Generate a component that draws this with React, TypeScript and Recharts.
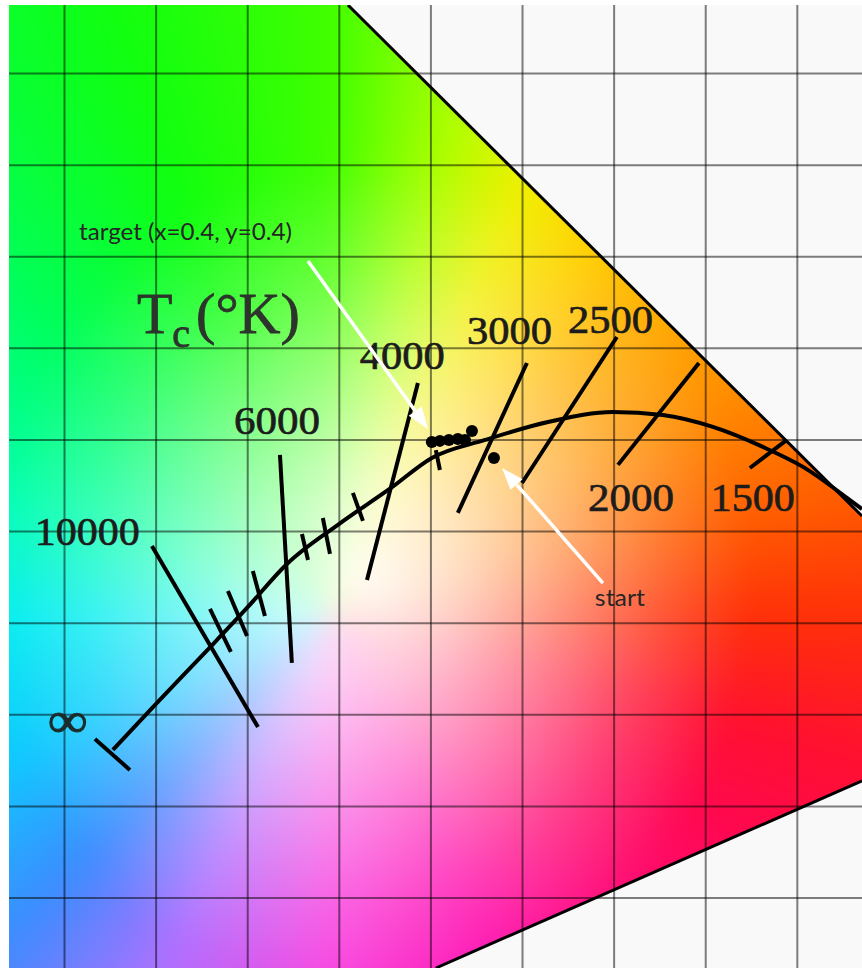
import React from 'react';
import {
  ComposedChart,
  XAxis,
  YAxis,
  Line,
  Scatter,
  ReferenceLine,
  ReferenceArea,
  ReferenceDot,
} from 'recharts';

// ---- chromaticity window (CIE x, y) ----
const X_DOMAIN: [number, number] = [0.1697, 0.6353];
const Y_DOMAIN: [number, number] = [0.1118, 0.6374];

const GRID_X = [0.2, 0.25, 0.3, 0.35, 0.4, 0.45, 0.5, 0.55, 0.6];
const GRID_Y = [0.15, 0.2, 0.25, 0.3, 0.35, 0.4, 0.45, 0.5, 0.55, 0.6];

// Planckian locus (from infinity to ~1200 K)
const PLANCKIAN_LOCUS = [
  { x: 0.2264, y: 0.2308 },
  { x: 0.2493, y: 0.2553 },
  { x: 0.2794, y: 0.2868 },
  { x: 0.2996, y: 0.3083 },
  { x: 0.3214, y: 0.3323 },
  { x: 0.3498, y: 0.3541 },
  { x: 0.3782, y: 0.3738 },
  { x: 0.4005, y: 0.3902 },
  { x: 0.4295, y: 0.4 },
  { x: 0.4639, y: 0.4098 },
  { x: 0.4993, y: 0.4153 },
  { x: 0.5266, y: 0.4136 },
  { x: 0.5539, y: 0.4071 },
  { x: 0.5812, y: 0.3962 },
  { x: 0.6031, y: 0.3853 },
  { x: 0.6287, y: 0.3672 },
  { x: 0.6353, y: 0.3623 },
];

// iso-temperature lines (labelled)
const ISOTHERMS = [
  { t: '10000', x1: 0.2477, y1: 0.3421, x2: 0.3056, y2: 0.2433 },
  { t: '6000', x1: 0.3176, y1: 0.3918, x2: 0.3241, y2: 0.2783 },
  { t: '4000', x1: 0.3929, y1: 0.4311, x2: 0.3651, y2: 0.3236 },
  { t: '3000', x1: 0.4524, y1: 0.442, x2: 0.4147, y2: 0.3602 },
  { t: '2500', x1: 0.5015, y1: 0.4562, x2: 0.4497, y2: 0.3765 },
  { t: '2000', x1: 0.5463, y1: 0.442, x2: 0.5021, y2: 0.3864 },
  { t: '1500', x1: 0.5943, y1: 0.4, x2: 0.5741, y2: 0.3847 },
];

// short intermediate iso-temperature ticks and the bar at infinity
const MINOR_TICKS = [
  { x1: 0.2794, y1: 0.3078, x2: 0.2908, y2: 0.2843 },
  { x1: 0.2892, y1: 0.3176, x2: 0.2996, y2: 0.293 },
  { x1: 0.3028, y1: 0.3285, x2: 0.3094, y2: 0.3039 },
  { x1: 0.3296, y1: 0.3487, x2: 0.3329, y2: 0.3345 },
  { x1: 0.341, y1: 0.3574, x2: 0.3449, y2: 0.3378 },
  { x1: 0.3574, y1: 0.3711, x2: 0.3629, y2: 0.3558 },
  { x1: 0.4027, y1: 0.3945, x2: 0.4049, y2: 0.3836 },
  { x1: 0.2166, y1: 0.2368, x2: 0.2357, y2: 0.2199 },
];

// gamut edges (spectral locus and purple line, where they cross the window)
const SPECTRAL_EDGE = [
  { x: 0.3547, y: 0.6374 },
  { x: 0.6353, y: 0.3585 },
];
const PURPLE_EDGE = [
  { x: 0.4027, y: 0.1118 },
  { x: 0.6353, y: 0.2139 },
];

// measured points
const TARGET_POINTS = [
  { x: 0.4005, y: 0.3989 },
  { x: 0.4049, y: 0.3995 },
  { x: 0.4098, y: 0.4 },
  { x: 0.4147, y: 0.4005 },
  { x: 0.4186, y: 0.4 },
  { x: 0.4224, y: 0.4049 },
];
const START_POINT = [{ x: 0.4344, y: 0.3902 }];

// labels (anchored at left end of baseline)
const TEMP_LABELS = [
  { text: '10000', x: 0.1838, y: 0.3427, w: 105 },
  { text: '6000', x: 0.2925, y: 0.4033, w: 86 },
  { text: '4000', x: 0.3612, y: 0.4388, w: 85 },
  { text: '3000', x: 0.4197, y: 0.4524, w: 85 },
  { text: '2500', x: 0.4748, y: 0.4584, w: 85 },
  { text: '2000', x: 0.4857, y: 0.3612, w: 86 },
  { text: '1500', x: 0.5528, y: 0.3612, w: 84 },
];
const INFINITY_LABEL = { text: '∞', x: 0.1909, y: 0.2377, w: 40 };
const TITLE_LABEL = { x: 0.2395, y: 0.4584 };
const NOTES = [
  { text: 'target (x=0.4, y=0.4)', x: 0.2079, y: 0.5092, w: 213 },
  { text: 'start', x: 0.4895, y: 0.3094, w: 50 },
];
const ARROWS = [
  { x1: 0.3329, y1: 0.4977, x2: 0.3984, y2: 0.406 },
  { x1: 0.4939, y1: 0.3219, x2: 0.4388, y2: 0.3847 },
];

// background shading parameters (style)
const HUE_STOPS = [
  { deg: 0, c: '#40ff00' },
  { deg: 13, c: '#a8ff00' },
  { deg: 24, c: '#f0f000' },
  { deg: 35, c: '#ffd000' },
  { deg: 45, c: '#ffb000' },
  { deg: 60, c: '#ff9000' },
  { deg: 75, c: '#ff6400' },
  { deg: 90, c: '#ff3008' },
  { deg: 105, c: '#ff1030' },
  { deg: 118, c: '#ff0850' },
  { deg: 135, c: '#ff0c78' },
  { deg: 155, c: '#ff10b0' },
  { deg: 180, c: '#f840e0' },
  { deg: 205, c: '#b070ff' },
  { deg: 225, c: '#3c8cff' },
  { deg: 245, c: '#10c8ff' },
  { deg: 270, c: '#00eef0' },
  { deg: 290, c: '#00ffb0' },
  { deg: 315, c: '#00ff60' },
  { deg: 340, c: '#10ff10' },
  { deg: 360, c: '#40ff00' },
];
const HUE_CENTER = { x: 0.3449, y: 0.3045 };
const WHITE_CENTER = { x: 0.3667, y: 0.3236 };
const WHITE_RADII = { rx: 0.2074, ry: 0.2293 };

const SERIF = '"Liberation Serif", "Times New Roman", serif';
const SANS = 'Lato, "Open Sans", sans-serif';

const GamutBackground = (props: any) => {
  const { x, y, width, height } = props;
  const kx = width / (X_DOMAIN[1] - X_DOMAIN[0]);
  const ky = height / (Y_DOMAIN[1] - Y_DOMAIN[0]);
  const sx = (v: number) => x + (v - X_DOMAIN[0]) * kx;
  const sy = (v: number) => y + (Y_DOMAIN[1] - v) * ky;
  const outline = [
    { x: X_DOMAIN[0], y: Y_DOMAIN[1] },
    SPECTRAL_EDGE[0],
    SPECTRAL_EDGE[1],
    PURPLE_EDGE[1],
    PURPLE_EDGE[0],
    { x: X_DOMAIN[0], y: Y_DOMAIN[0] },
  ];
  const pts = outline.map((p) => `${sx(p.x)},${sy(p.y)}`).join(' ');
  const pad = 70;
  const ox = x - pad;
  const oy = y - pad;
  const hcx = sx(HUE_CENTER.x) - ox;
  const hcy = sy(HUE_CENTER.y) - oy;
  const wcx = sx(WHITE_CENTER.x) - ox;
  const wcy = sy(WHITE_CENTER.y) - oy;
  const rx = WHITE_RADII.rx * kx;
  const ry = WHITE_RADII.ry * ky;
  const conic = `conic-gradient(from 0deg at ${hcx}px ${hcy}px, ${HUE_STOPS.map(
    (s) => `${s.c} ${s.deg}deg`
  ).join(', ')})`;
  const radial = `radial-gradient(ellipse ${rx}px ${ry}px at ${wcx}px ${wcy}px, rgba(255,255,255,0.96) 0%, rgba(255,255,255,0.75) 25%, rgba(255,255,255,0.48) 50%, rgba(255,255,255,0.2) 76%, rgba(255,255,255,0) 100%)`;
  return (
    <g>
      <defs>
        <clipPath id="gamutClip">
          <polygon points={pts} />
        </clipPath>
      </defs>
      <rect x={x} y={y} width={width} height={height} fill="#f9f9f9" />
      <g clipPath="url(#gamutClip)">
        <foreignObject x={ox} y={oy} width={width + 2 * pad} height={height + 2 * pad}>
          <div
            style={{
              width: `${width + 2 * pad}px`,
              height: `${height + 2 * pad}px`,
              background: `${radial}, ${conic}`,
              filter: 'blur(14px)',
            }}
          />
        </foreignObject>
      </g>
    </g>
  );
};

const ArrowShape = (props: any) => {
  const { x1, y1, x2, y2 } = props;
  const ang = Math.atan2(y2 - y1, x2 - x1);
  const L = 22;
  const W = 8;
  const bx = x2 - L * Math.cos(ang);
  const by = y2 - L * Math.sin(ang);
  const px = -Math.sin(ang);
  const py = Math.cos(ang);
  return (
    <g>
      <line x1={x1} y1={y1} x2={bx} y2={by} stroke="#ffffff" strokeWidth={3.5} />
      <polygon
        points={`${x2},${y2} ${bx + px * W},${by + py * W} ${bx - px * W},${by - py * W}`}
        fill="#ffffff"
      />
    </g>
  );
};

const DotShape = (props: any) => <circle cx={props.cx} cy={props.cy} r={6} fill="#000" />;

export default function App() {
  return (
    <div style={{ position: 'absolute', left: 0, top: 0, background: '#ffffff' }}>
      <ComposedChart width={862} height={968} margin={{ top: 5, right: 0, bottom: 0, left: 9 }}>
        <XAxis type="number" dataKey="x" domain={X_DOMAIN} allowDataOverflow hide />
        <YAxis type="number" dataKey="y" domain={Y_DOMAIN} allowDataOverflow hide />

        <ReferenceArea
          x1={X_DOMAIN[0]}
          x2={X_DOMAIN[1]}
          y1={Y_DOMAIN[0]}
          y2={Y_DOMAIN[1]}
          shape={GamutBackground}
          zIndex={10}
        />

        {GRID_X.map((v) => (
          <ReferenceLine key={`gx${v}`} x={v} stroke="rgba(0,0,0,0.5)" strokeWidth={2} zIndex={20} />
        ))}
        {GRID_Y.map((v) => (
          <ReferenceLine key={`gy${v}`} y={v} stroke="rgba(0,0,0,0.5)" strokeWidth={2} zIndex={20} />
        ))}

        <ReferenceLine
          segment={SPECTRAL_EDGE}
          stroke="#000"
          strokeWidth={3}
          ifOverflow="hidden"
          zIndex={30}
        />
        <ReferenceLine
          segment={PURPLE_EDGE}
          stroke="#000"
          strokeWidth={3}
          ifOverflow="hidden"
          zIndex={30}
        />

        {ISOTHERMS.map((s) => (
          <ReferenceLine
            key={`iso${s.t}`}
            segment={[
              { x: s.x1, y: s.y1 },
              { x: s.x2, y: s.y2 },
            ]}
            stroke="#000"
            strokeWidth={4}
            zIndex={30}
          />
        ))}
        {MINOR_TICKS.map((s, i) => (
          <ReferenceLine
            key={`tick${i}`}
            segment={[
              { x: s.x1, y: s.y1 },
              { x: s.x2, y: s.y2 },
            ]}
            stroke="#000"
            strokeWidth={4}
            zIndex={30}
          />
        ))}

        <Line
          data={PLANCKIAN_LOCUS}
          dataKey="y"
          type="monotone"
          stroke="#000"
          strokeWidth={4}
          dot={false}
          activeDot={false}
          isAnimationActive={false}
          zIndex={30}
        />

        <Scatter
          data={TARGET_POINTS}
          dataKey="y"
          shape={DotShape}
          isAnimationActive={false}
          zIndex={40}
        />
        <Scatter
          data={START_POINT}
          dataKey="y"
          shape={DotShape}
          isAnimationActive={false}
          zIndex={40}
        />

        {TEMP_LABELS.map((l) => (
          <ReferenceDot
            key={`lbl${l.text}`}
            x={l.x}
            y={l.y}
            r={1}
            zIndex={50}
            shape={(p: any) => (
              <text
                x={p.cx}
                y={p.cy}
                fontFamily={SERIF}
                fontSize={41}
                fill="#1c1c1c"
                stroke="#1c1c1c"
                strokeWidth={0.7}
                textLength={l.w}
                lengthAdjust="spacingAndGlyphs"
              >
                {l.text}
              </text>
            )}
          />
        ))}
        <ReferenceDot
          x={INFINITY_LABEL.x}
          y={INFINITY_LABEL.y}
          r={1}
          zIndex={50}
          shape={(p: any) => (
            <text
              x={p.cx}
              y={p.cy}
              fontFamily={SERIF}
              fontSize={50}
              fill="#1c2c2c"
              stroke="#1c2c2c"
              strokeWidth={1}
              textLength={INFINITY_LABEL.w}
              lengthAdjust="spacingAndGlyphs"
            >
              {INFINITY_LABEL.text}
            </text>
          )}
        />
        <ReferenceDot
          x={TITLE_LABEL.x}
          y={TITLE_LABEL.y}
          r={1}
          zIndex={50}
          shape={(p: any) => (
            <text
              x={p.cx}
              y={p.cy}
              fontFamily={SERIF}
              fontSize={58}
              fill="#2c342c"
              stroke="#2c342c"
              strokeWidth={0.8}
            >
              <tspan>T</tspan>
              <tspan fontSize={40} dy={14}>
                c
              </tspan>
              <tspan dy={-14} dx={6}>
                (°K)
              </tspan>
            </text>
          )}
        />
        {NOTES.map((n) => (
          <ReferenceDot
            key={`note${n.text}`}
            x={n.x}
            y={n.y}
            r={1}
            zIndex={50}
            shape={(p: any) => (
              <text
                x={p.cx}
                y={p.cy}
                fontFamily={SANS}
                fontSize={23}
                fill="#262626"
                textLength={n.w}
                lengthAdjust="spacingAndGlyphs"
              >
                {n.text}
              </text>
            )}
          />
        ))}

        {ARROWS.map((a, i) => (
          <ReferenceLine
            key={`arrow${i}`}
            segment={[
              { x: a.x1, y: a.y1 },
              { x: a.x2, y: a.y2 },
            ]}
            shape={ArrowShape}
            zIndex={60}
          />
        ))}
      </ComposedChart>
    </div>
  );
}
